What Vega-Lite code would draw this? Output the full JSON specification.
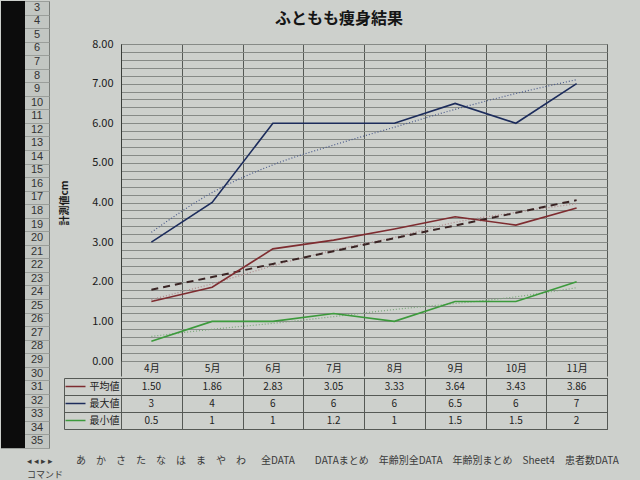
{
  "$schema": "https://vega.github.io/schema/vega-lite/v6.json",
  "background": "#cdd0cc",
  "padding": {"left": 0, "top": 0, "right": 0, "bottom": 0},
  "config": {
    "font": "Noto Sans CJK JP",
    "view": {"stroke": "#505450", "strokeWidth": 1},
    "axis": {"labelFont": "Noto Sans CJK JP", "titleFont": "Noto Sans CJK JP"}
  },
  "datasets": {
    "strip": [{"c": "strip"}],
    "title": [{"t": "ふともも痩身結果"}],
    "rows": [{"r": "3"}, {"r": "4"}, {"r": "5"}, {"r": "6"}, {"r": "7"}, {"r": "8"}, {"r": "9"}, {"r": "10"}, {"r": "11"}, {"r": "12"}, {"r": "13"}, {"r": "14"}, {"r": "15"}, {"r": "16"}, {"r": "17"}, {"r": "18"}, {"r": "19"}, {"r": "20"}, {"r": "21"}, {"r": "22"}, {"r": "23"}, {"r": "24"}, {"r": "25"}, {"r": "26"}, {"r": "27"}, {"r": "28"}, {"r": "29"}, {"r": "30"}, {"r": "31"}, {"r": "32"}, {"r": "33"}, {"r": "34"}, {"r": "35"}],
    "tabs": [
      {"part": "nav", "line": "tabs", "text": "◂ ◂ ▸ ▸"},
      {"part": "sheets", "line": "tabs", "text": "あ\u2002\u2002か\u2002\u2002さ\u2002\u2002た\u2002\u2002な\u2002\u2002は\u2002\u2002ま\u2002\u2002や\u2002\u2002わ\u3000\u2002全DATA\u3000\u3000DATAまとめ\u3000年齢別全DATA\u3000年齢別まとめ\u3000Sheet4\u3000患者数DATA"},
      {"part": "nav", "line": "cmd", "text": "コマンド"}
    ],
    "obs": [
      {"month": "4月", "series": "平均値", "value": 1.50},
      {"month": "5月", "series": "平均値", "value": 1.86},
      {"month": "6月", "series": "平均値", "value": 2.83},
      {"month": "7月", "series": "平均値", "value": 3.05},
      {"month": "8月", "series": "平均値", "value": 3.33},
      {"month": "9月", "series": "平均値", "value": 3.64},
      {"month": "10月", "series": "平均値", "value": 3.43},
      {"month": "11月", "series": "平均値", "value": 3.86},
      {"month": "4月", "series": "最大値", "value": 3},
      {"month": "5月", "series": "最大値", "value": 4},
      {"month": "6月", "series": "最大値", "value": 6},
      {"month": "7月", "series": "最大値", "value": 6},
      {"month": "8月", "series": "最大値", "value": 6},
      {"month": "9月", "series": "最大値", "value": 6.5},
      {"month": "10月", "series": "最大値", "value": 6},
      {"month": "11月", "series": "最大値", "value": 7},
      {"month": "4月", "series": "最小値", "value": 0.5},
      {"month": "5月", "series": "最小値", "value": 1},
      {"month": "6月", "series": "最小値", "value": 1},
      {"month": "7月", "series": "最小値", "value": 1.2},
      {"month": "8月", "series": "最小値", "value": 1},
      {"month": "9月", "series": "最小値", "value": 1.5},
      {"month": "10月", "series": "最小値", "value": 1.5},
      {"month": "11月", "series": "最小値", "value": 2}
    ],
    "trend": [
      {"month": "4月", "trend": "max", "value": 3.25},
      {"month": "5月", "trend": "max", "value": 4.25},
      {"month": "6月", "trend": "max", "value": 4.95},
      {"month": "7月", "trend": "max", "value": 5.45},
      {"month": "8月", "trend": "max", "value": 5.9},
      {"month": "9月", "trend": "max", "value": 6.35},
      {"month": "10月", "trend": "max", "value": 6.75},
      {"month": "11月", "trend": "max", "value": 7.1},
      {"month": "4月", "trend": "avgLinear", "value": 1.8},
      {"month": "5月", "trend": "avgLinear", "value": 2.12},
      {"month": "6月", "trend": "avgLinear", "value": 2.45},
      {"month": "7月", "trend": "avgLinear", "value": 2.77},
      {"month": "8月", "trend": "avgLinear", "value": 3.1},
      {"month": "9月", "trend": "avgLinear", "value": 3.42},
      {"month": "10月", "trend": "avgLinear", "value": 3.74},
      {"month": "11月", "trend": "avgLinear", "value": 4.06},
      {"month": "4月", "trend": "avgDotted", "value": 1.55},
      {"month": "5月", "trend": "avgDotted", "value": 1.95},
      {"month": "6月", "trend": "avgDotted", "value": 2.4},
      {"month": "7月", "trend": "avgDotted", "value": 2.8},
      {"month": "8月", "trend": "avgDotted", "value": 3.12},
      {"month": "9月", "trend": "avgDotted", "value": 3.5},
      {"month": "10月", "trend": "avgDotted", "value": 3.75},
      {"month": "11月", "trend": "avgDotted", "value": 3.97},
      {"month": "4月", "trend": "min", "value": 0.62},
      {"month": "5月", "trend": "min", "value": 0.8},
      {"month": "6月", "trend": "min", "value": 0.95},
      {"month": "7月", "trend": "min", "value": 1.12},
      {"month": "8月", "trend": "min", "value": 1.3},
      {"month": "9月", "trend": "min", "value": 1.45},
      {"month": "10月", "trend": "min", "value": 1.62},
      {"month": "11月", "trend": "min", "value": 1.85}
    ]
  },
  "spacing": 5,
  "vconcat": [
    {
      "spacing": 9,
      "hconcat": [
        {
          "width": 48,
          "height": 447,
          "view": {"fill": "#c2c6c2", "stroke": "#7a7e7a"},
          "layer": [
            {
              "data": {"name": "strip"},
              "mark": {"type": "rect", "color": "#0c0c0c"},
              "encoding": {
                "x": {"field": "c", "type": "nominal", "scale": {"type": "band", "domain": ["strip", "num"], "paddingInner": 0, "paddingOuter": 0}, "axis": null}
              }
            },
            {
              "data": {"name": "rows"},
              "mark": {"type": "text", "fontSize": 11, "color": "#333333", "font": "Liberation Sans"},
              "encoding": {
                "x": {"datum": "num", "type": "nominal", "scale": {"type": "band", "domain": ["strip", "num"], "paddingInner": 0, "paddingOuter": 0}, "axis": null},
                "y": {"field": "r", "type": "ordinal", "sort": null, "scale": {"type": "band", "paddingInner": 0, "paddingOuter": 0},
                  "axis": {"title": null, "labels": false, "ticks": false, "domain": false, "grid": true, "tickBand": "extent", "gridColor": "#9a9e9a"}},
                "text": {"field": "r", "type": "nominal"}
              }
            }
          ]
        },
        {
          "spacing": 0,
          "vconcat": [
            {
              "width": 486,
              "height": 36,
              "view": {"stroke": null},
              "data": {"name": "title"},
              "mark": {"type": "text", "fontSize": 16, "fontWeight": "bold", "color": "#151515", "dx": -25, "dy": 0},
              "encoding": {"text": {"field": "t", "type": "nominal"}}
            },
            {
              "width": 486,
              "height": 317,
              "encoding": {
                "x": {
                  "field": "month", "type": "ordinal", "bandPosition": 0.5,
                  "sort": ["4月", "5月", "6月", "7月", "8月", "9月", "10月", "11月"],
                  "scale": {"type": "band", "paddingInner": 0, "paddingOuter": 0},
                  "axis": {"title": null, "orient": "bottom", "grid": true, "tickBand": "extent", "ticks": true, "tickSize": 15, "tickColor": "#555955", "gridColor": "#555955", "labelPadding": -13, "labelFontSize": 10, "labelColor": "#222222", "labelAngle": 0, "domain": false}
                },
                "y": {
                  "field": "value", "type": "quantitative",
                  "scale": {"domain": [0, 8], "nice": false},
                  "axis": {"title": "計測値cm", "values": [0, 0.2, 0.4, 0.6, 0.8, 1, 1.2, 1.4, 1.6, 1.8, 2, 2.2, 2.4, 2.6, 2.8, 3, 3.2, 3.4, 3.6, 3.8, 4, 4.2, 4.4, 4.6, 4.8, 5, 5.2, 5.4, 5.6, 5.8, 6, 6.2, 6.4, 6.6, 6.8, 7, 7.2, 7.4, 7.6, 7.8, 8], "format": ".2f", "labelExpr": "abs(datum.value - round(datum.value)) < 0.01 ? datum.label : ''", "labelOverlap": false, "labelFlush": false, "labelBound": false, "ticks": false, "labelPadding": 8, "labelFontSize": 11, "labelColor": "#1a1a1a", "titleFontSize": 10, "titleFontWeight": "bold", "titleColor": "#1a1a1a", "titlePadding": 22, "gridColor": "#868a86", "gridWidth": 1, "domain": true, "domainColor": "#3a3e3a"}
                }
              },
              "layer": [
                {"data": {"name": "trend"}, "transform": [{"filter": "datum.trend === 'max'"}], "mark": {"type": "line", "color": "#4a5a8a", "strokeWidth": 1.2, "strokeDash": [1, 2], "interpolate": "monotone"}},
                {"data": {"name": "trend"}, "transform": [{"filter": "datum.trend === 'avgDotted'"}], "mark": {"type": "line", "color": "#b08a8c", "strokeWidth": 1.2, "strokeDash": [1, 2], "interpolate": "monotone"}},
                {"data": {"name": "trend"}, "transform": [{"filter": "datum.trend === 'min'"}], "mark": {"type": "line", "color": "#7aa67a", "strokeWidth": 1.2, "strokeDash": [1, 2], "interpolate": "monotone"}},
                {"data": {"name": "trend"}, "transform": [{"filter": "datum.trend === 'avgLinear'"}], "mark": {"type": "line", "color": "#3a2424", "strokeWidth": 2, "strokeDash": [7, 5]}},
                {"data": {"name": "obs"}, "mark": {"type": "line", "strokeWidth": 1.6},
                  "encoding": {"color": {"field": "series", "type": "nominal", "scale": {"domain": ["平均値", "最大値", "最小値"], "range": ["#7e2c30", "#1c2c5c", "#3c9a3c"]}, "legend": null}}}
              ]
            },
            {
              "width": 486,
              "height": 51,
              "data": {"name": "obs"},
              "encoding": {
                "x": {
                  "field": "month", "type": "ordinal",
                  "sort": ["4月", "5月", "6月", "7月", "8月", "9月", "10月", "11月"],
                  "scale": {"type": "band", "paddingInner": 0, "paddingOuter": 0},
                  "axis": {"title": null, "orient": "top", "labels": false, "ticks": false, "domain": false, "grid": true, "tickBand": "extent", "gridColor": "#555955"}
                }
              },
              "layer": [
                {
                  "transform": [{"filter": "datum.series === '平均値'"}],
                  "mark": {"type": "text", "fontSize": 10, "color": "#222222"},
                  "encoding": {
                    "y": {"field": "series", "type": "nominal", "sort": ["平均値", "最大値", "最小値"], "scale": {"type": "band", "paddingInner": 0, "paddingOuter": 0}, "title": null,
                      "axis": {"orient": "left", "offset": 36, "ticks": true, "tickSize": 20, "tickWidth": 1.5, "tickColor": {"condition": [{"test": "datum.value === '平均値'", "value": "#7e2c30"}, {"test": "datum.value === '最大値'", "value": "#1c2c5c"}], "value": "#3c9a3c"}, "labelAlign": "left", "labelPadding": -24, "domain": false, "grid": false, "labelFontSize": 10, "labelColor": "#222222"}},
                    "text": {"field": "value", "type": "quantitative", "format": ".2f"}
                  }
                },
                {
                  "transform": [{"filter": "datum.series !== '平均値'"}],
                  "mark": {"type": "text", "fontSize": 10, "color": "#222222"},
                  "encoding": {
                    "y": {"field": "series", "type": "nominal", "sort": ["平均値", "最大値", "最小値"], "scale": {"type": "band", "paddingInner": 0, "paddingOuter": 0}, "title": null,
                      "axis": {"orient": "left", "offset": 57, "labels": false, "ticks": true, "tickSize": -57, "tickBand": "extent", "tickColor": "#555955", "grid": true, "gridColor": "#555955", "domain": true, "domainColor": "#555955"}},
                    "text": {"field": "value", "type": "quantitative", "format": "~g"}
                  }
                }
              ],
              "resolve": {"axis": {"y": "independent"}}
            }
          ]
        }
      ]
    },
    {
      "width": 640,
      "height": 28,
      "view": {"stroke": null},
      "data": {"name": "tabs"},
      "encoding": {
        "x": {"datum": 0, "type": "quantitative", "scale": {"domain": [0, 1]}, "axis": null},
        "y": {"field": "line", "type": "nominal", "sort": ["tabs", "cmd"], "scale": {"type": "band", "domain": ["tabs", "cmd"], "paddingInner": 0, "paddingOuter": 0}, "axis": null},
        "text": {"field": "text", "type": "nominal"}
      },
      "layer": [
        {"transform": [{"filter": "datum.part === 'nav'"}], "mark": {"type": "text", "align": "left", "fontSize": 9, "color": "#3a3a3a", "dx": 26}},
        {"transform": [{"filter": "datum.part === 'sheets'"}], "mark": {"type": "text", "align": "left", "fontSize": 10, "color": "#3a3a3a", "dx": 75}}
      ]
    }
  ]
}
